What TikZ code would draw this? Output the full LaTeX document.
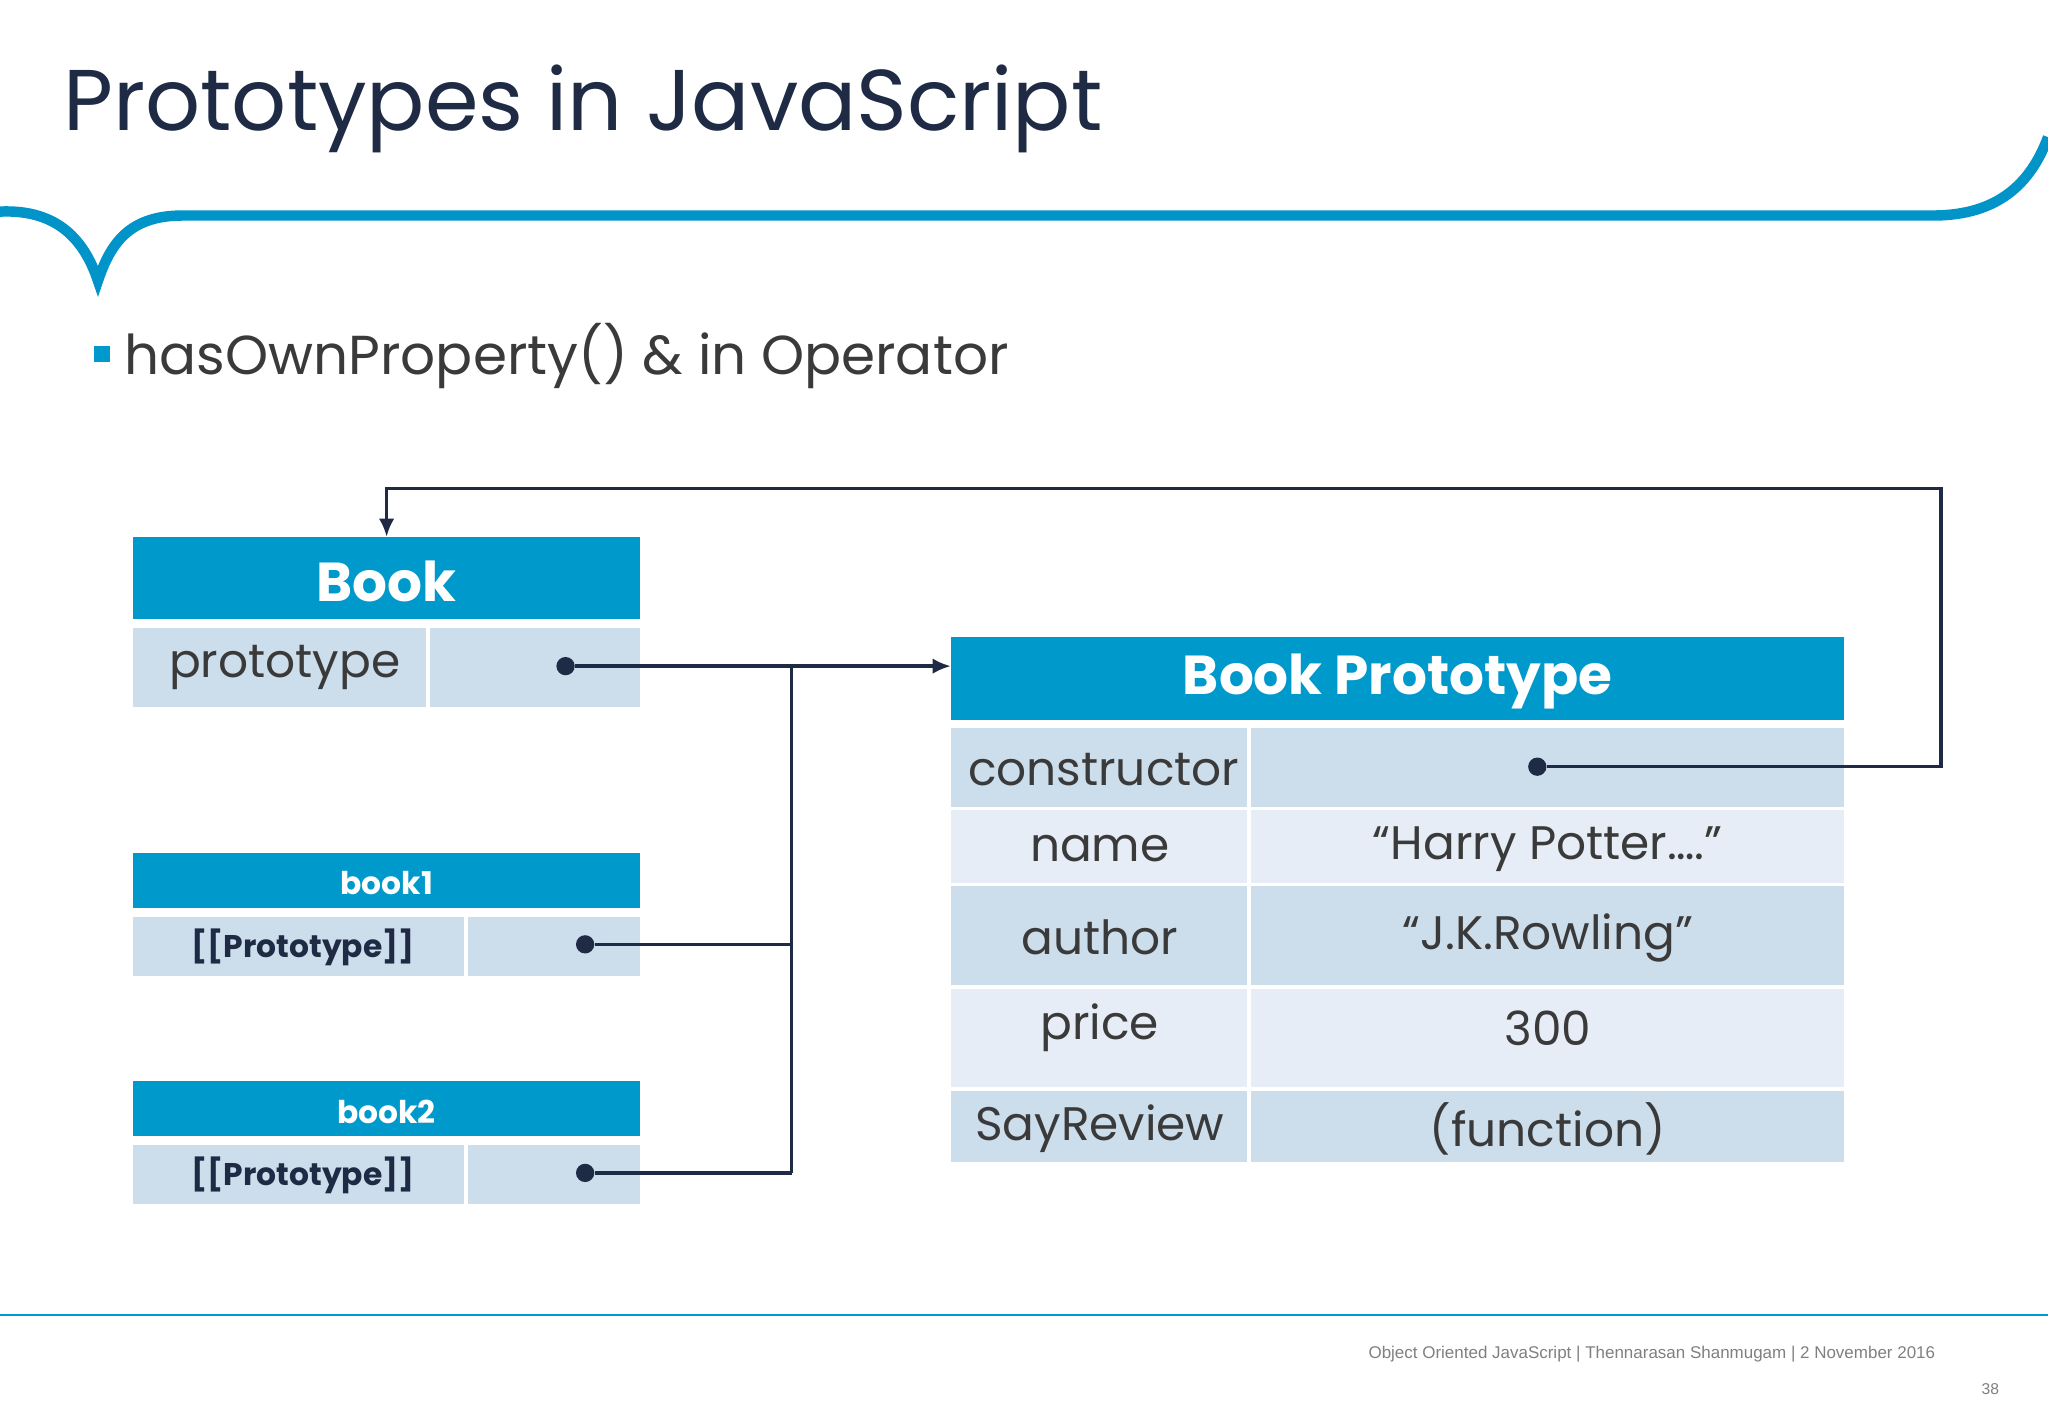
\documentclass[tikz,border=0pt]{standalone}
\usepackage{fontspec}
\setmainfont{Poppins}
\newfontfamily\footfont{Liberation Sans}
\usetikzlibrary{arrows.meta}
\definecolor{hdr}{HTML}{0099CC}
\definecolor{rowd}{HTML}{CCDDEC}
\definecolor{rowl}{HTML}{E6EDF6}
\definecolor{navy}{HTML}{1F2A44}
\definecolor{txt}{HTML}{3A3A3A}
\definecolor{swoosh}{HTML}{0094C8}
\tikzset{
 hbox/.style={fill=hdr,draw=none,text=white,font=\bfseries},
 cell/.style={fill=rowd,draw=none,text=txt},
 conn/.style={line width=1.3pt,draw=navy},
 dotn/.style={circle,fill=navy,inner sep=0pt,minimum size=7pt},
}
\begin{document}
\begin{tikzpicture}[x=0.5pt,y=-0.5pt]
\useasboundingbox[fill=white] (0,0) rectangle (1568,1085);
% title
\node[anchor=base west,text=navy,font=\fontsize{33}{36}\selectfont,inner sep=0] (title) at (48,100) {Prototypes in JavaScript};
\draw[swoosh,line width=4pt] (0,162) .. controls (45,160) and (65,185) .. (75,215) .. controls (85,185) and (100,165) .. (140,165) -- (1480,165) .. controls (1530,165) and (1555,140) .. (1568,105);
% bullet
\fill[hdr] (72,265) rectangle (84,277);
\node[anchor=base west,text=txt,font=\fontsize{21}{24}\selectfont,inner sep=0] (sub) at (95,287) {hasOwnProperty() \& in Operator};
% Book
\fill[hdr] (102,411) rectangle (490,474);
\node[text=white,font=\bfseries\fontsize{21}{24}\selectfont] (book) at (296,445) {Book};
\fill[rowd] (102,481) rectangle (490,541);
\draw[white,line width=1.5pt] (328,481) -- (328,541);
\node[text=txt,font=\fontsize{18}{20}\selectfont] (proto) at (218,511) {prototype};
\node[dotn] (d0) at (433,510) {};
% book1
\fill[hdr] (102,653) rectangle (490,695);
\node[text=white,font=\bfseries\fontsize{12}{14}\selectfont] (b1) at (296,676) {book1};
\fill[rowd] (102,702) rectangle (490,747);
\draw[white,line width=1.5pt] (357,702) -- (357,747);
\node[text=navy,font=\bfseries\fontsize{12}{14}\selectfont] (p1) at (232,725) {[[Prototype]]};
\node[dotn] (d1) at (448,723) {};
% book2
\fill[hdr] (102,828) rectangle (490,870);
\node[text=white,font=\bfseries\fontsize{12}{14}\selectfont] (b2) at (296,851) {book2};
\fill[rowd] (102,877) rectangle (490,922);
\draw[white,line width=1.5pt] (357,877) -- (357,922);
\node[text=navy,font=\bfseries\fontsize{12}{14}\selectfont] (p2) at (232,900) {[[Prototype]]};
\node[dotn] (d2) at (448,898) {};
% Book Prototype
\fill[hdr] (728,488) rectangle (1412,551);
\node[text=white,font=\bfseries\fontsize{21}{24}\selectfont] (bp) at (1070,522) {Book Prototype};
\fill[rowd] (728,557) rectangle (1412,618);
\fill[rowl] (728,620) rectangle (1412,676);
\fill[rowd] (728,678) rectangle (1412,754);
\fill[rowl] (728,757) rectangle (1412,832);
\fill[rowd] (728,835) rectangle (1412,890);
\draw[white,line width=1.5pt] (956,557) -- (956,890);
\begin{scope}[every node/.style={text=txt,font=\fontsize{18}{20}\selectfont}]
\node (k1) at (845,589) {constructor};
\node (k2) at (842,650) {name};
\node (v2) at (1185,650) {“Harry Potter….”};
\node (k3) at (842,718) {author};
\node (v3) at (1185,718) {“J.K.Rowling”};
\node (k4) at (842,787) {price};
\node (v4) at (1185,787) {300};
\node (k5) at (842,864) {SayReview};
\node (v5) at (1185,864) {(function)};
\end{scope}
\node[dotn] (dc) at (1177,587) {};
% connectors
\coordinate (bpin) at (728,510);
\coordinate (j0) at (606,510);
\coordinate (j1) at (606,723);
\coordinate (j2) at (606,898);
\coordinate (r1) at (1486,587);
\coordinate (r2) at (1486,374);
\coordinate (t1) at (296,374);
\coordinate (bookin) at (296,411);
\draw[conn,-{Latex[length=7pt,width=6pt]}] (d0) -- (bpin);
\draw[conn] (j0) -- (j2);
\draw[conn] (d1) -- (j1);
\draw[conn] (d2) -- (j2);
\draw[conn,-{Latex[length=7pt,width=6pt]}] (dc) -- (r1) -- (r2) -- (t1) -- (bookin);
% footer
\draw[hdr,line width=0.6pt] (0,1007) -- (1568,1007);
\node[anchor=base east,text=gray,font=\footfont\fontsize{6.5}{8}\selectfont,inner sep=0] (foot) at (1482,1040) {Object Oriented JavaScript | Thennarasan Shanmugam | 2 November 2016};
\node[anchor=base east,text=gray,font=\footfont\fontsize{6}{8}\selectfont,inner sep=0] (pg) at (1531,1068) {38};
\end{tikzpicture}
\end{document}
